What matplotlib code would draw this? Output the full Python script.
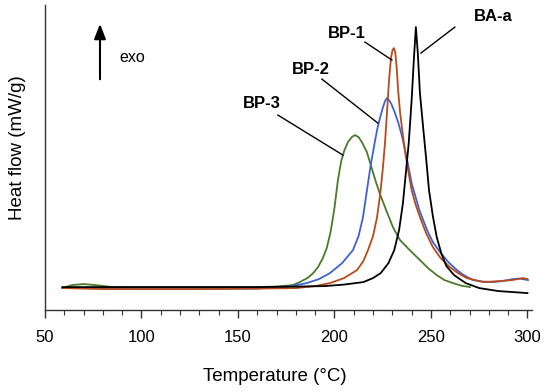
import numpy as np
import matplotlib
matplotlib.use("Agg")
import matplotlib.pyplot as plt
from matplotlib.ticker import MultipleLocator

plt.rcParams['font.family'] = ['Liberation Sans', 'DejaVu Sans']

# DSC-käyrät (lämpötila °C, lämpövirta mielivaltaisessa skaalassa)
t_baa = [59, 80, 100, 130, 160, 180, 195, 205, 215, 220, 224, 228, 231, 233.5, 235.5, 237, 238.5,
         240, 241.2, 242.2, 243.2, 244.3, 246, 247.5, 249, 251, 253, 255.5, 258, 262, 268, 275, 285, 300]
v_baa = [0.01, 0.01, 0.01, 0.01, 0.01, 0.015, 0.02, 0.035, 0.06, 0.10, 0.15, 0.25, 0.38, 0.58, 0.85, 1.15, 1.45,
         1.88, 2.3, 2.61, 2.35, 1.95, 1.6, 1.3, 0.98, 0.72, 0.51, 0.34, 0.22, 0.13, 0.05, 0.0, -0.03, -0.05]

t_bp1 = [59, 80, 100, 130, 160, 180, 190, 197.7, 205, 211.7, 215, 217.4, 220, 222, 223.6, 225, 226.2, 227.2,
         228.3, 229.3, 230.1, 230.8, 231.5, 232.2, 233, 234, 235, 236.5, 238, 240, 242, 244.3, 247.5, 251,
         255, 259.8, 264, 268.6, 277, 285.8, 292, 297.7, 300]
v_bp1 = [0.0, -0.01, -0.01, -0.01, -0.005, 0.0, 0.02, 0.05, 0.10, 0.18, 0.27, 0.38, 0.52, 0.70, 0.92, 1.18, 1.45, 1.75,
         2.08, 2.30, 2.38, 2.40, 2.36, 2.22, 1.98, 1.76, 1.6, 1.38, 1.2, 0.98, 0.84, 0.71, 0.55, 0.41,
         0.30, 0.21, 0.15, 0.10, 0.06, 0.07, 0.08, 0.10, 0.09]

t_bp2 = [59, 80, 95, 100, 130, 160, 175, 185.7, 192, 197.7, 204, 209.6, 212.5, 214.8, 217.4, 218.7, 220, 221,
         222.3, 223.6, 225, 226.2, 227.2, 228.3, 229.5, 231, 233, 235, 237.5, 240, 244, 248, 251, 254.7, 259,
         263.5, 267, 271.8, 277, 282, 287, 292.5, 296, 300.3]
v_bp2 = [0.0, 0.0, -0.01, -0.01, -0.01, -0.005, 0.01, 0.05, 0.09, 0.15, 0.25, 0.38, 0.52, 0.71, 1.05, 1.22, 1.36, 1.47,
         1.60, 1.70, 1.80, 1.87, 1.90, 1.88, 1.84, 1.77, 1.66, 1.52, 1.3, 1.05, 0.78, 0.58, 0.46, 0.36, 0.26,
         0.18, 0.13, 0.08, 0.065, 0.06, 0.07, 0.09, 0.095, 0.08]

t_bp3 = [59, 64, 70, 76, 85, 100, 130, 160, 170, 178.5, 182, 186, 189, 191.5, 194, 196, 198, 200, 201.8, 203.5,
         205.2, 207, 209, 210.6, 212.5, 214.5, 216.8, 219, 221.5, 223.6, 227, 230.3, 234, 239, 244.3, 248.5,
         253, 257, 261.4, 265.5, 270.2]
v_bp3 = [0.0, 0.03, 0.04, 0.03, 0.01, 0.01, 0.01, 0.01, 0.015, 0.03, 0.06, 0.1, 0.15, 0.21, 0.3, 0.4, 0.56, 0.8, 1.08, 1.27,
         1.38, 1.46, 1.51, 1.53, 1.51, 1.45, 1.36, 1.22, 1.06, 0.94, 0.77, 0.61, 0.48, 0.38, 0.28, 0.2,
         0.13, 0.08, 0.05, 0.025, 0.01]

fig = plt.figure(figsize=(5.5, 3.92), dpi=100)
ax = fig.add_axes([0.0818, 0.209, 0.967 - 0.0818, 0.987 - 0.209])

lw = 1.3
ax.plot(t_bp3, v_bp3, color='#4a7a2a', lw=lw)
ax.plot(t_bp2, v_bp2, color='#3d63d1', lw=lw)
ax.plot(t_bp1, v_bp1, color='#b84a1c', lw=lw)
ax.plot(t_baa, v_baa, color='black', lw=lw)

ax.set_xlim(50, 302.3)
ax.set_ylim(-0.22, 2.83)

for s in ['top', 'right']:
    ax.spines[s].set_visible(False)
for s in ['left', 'bottom']:
    ax.spines[s].set_color('#333333')
    ax.spines[s].set_linewidth(1.0)

ax.set_yticks([])
ax.xaxis.set_major_locator(MultipleLocator(50))
ax.xaxis.set_minor_locator(MultipleLocator(10))
ax.tick_params(axis='x', which='major', direction='out', length=6, width=1.0, color='#333333',
               labelsize=12, pad=8)
ax.tick_params(axis='x', which='minor', direction='out', length=3.5, width=0.8, color='#333333')

ax.set_xlabel('Temperature (°C)', fontsize=13.5)
ax.set_ylabel('Heat flow (mW/g)', fontsize=13.5)
ax.xaxis.set_label_coords(0.472, -0.19)
ax.yaxis.set_label_coords(-0.04, 0.534)

# Nimilaput viivoineen
labels = [('BA-a', (282.1, 2.72), (262.4, 2.61), (244.8, 2.35)),
          ('BP-1', (206.5, 2.55), (215.8, 2.46), (229.8, 2.28)),
          ('BP-2', (187.8, 2.19), (193.5, 2.09), (222.5, 1.65)),
          ('BP-3', (162.4, 1.85), (170.7, 1.73), (204.4, 1.33))]
for txt, pos, p0, p1 in labels:
    ax.text(pos[0], pos[1], txt, fontsize=12, fontweight='bold', ha='center', va='center')
    ax.plot([p0[0], p1[0]], [p0[1], p1[1]], color='black', lw=1.0)

ax.annotate('', xy=(78.5, 2.67), xytext=(78.5, 2.06),
            arrowprops=dict(arrowstyle='-|>,head_length=0.9,head_width=0.35', color='black', lw=1.5))
ax.text(95.1, 2.31, 'exo', fontsize=11.5, ha='center', va='center')

fig.savefig('out.png', dpi=100)
